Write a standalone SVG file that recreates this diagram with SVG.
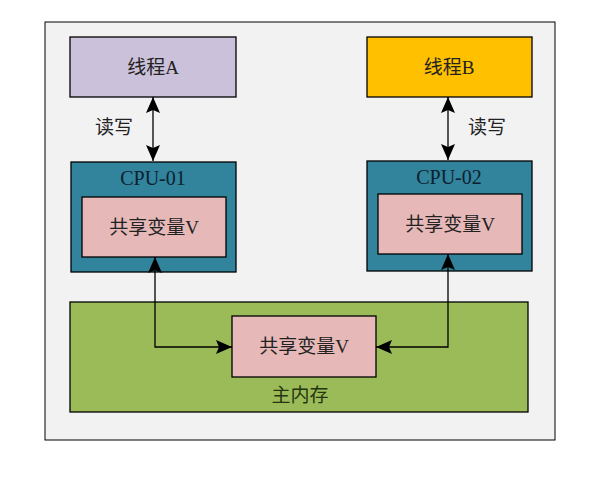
<svg xmlns="http://www.w3.org/2000/svg" width="602" height="485" viewBox="0 0 602 485">
<style>
text{font-family:"Liberation Serif","Noto Sans CJK SC",serif;font-size:19px;text-anchor:middle;dominant-baseline:central;fill:#222}
.b{stroke:#000;stroke-width:1.3}
.c{fill:none;stroke:#000;stroke-width:1.3}
</style>
<defs>
<marker id="h" viewBox="0 0 16 14" refX="16" refY="7" markerWidth="16" markerHeight="14" markerUnits="userSpaceOnUse" orient="auto-start-reverse">
<path d="M0,0 L16,7 L0,14 L3,7 Z" fill="#000"/>
</marker>
</defs>
<rect width="602" height="485" fill="#fff"/>
<rect x="45" y="22" width="510" height="418" fill="#F2F2F2" stroke="#000" stroke-width="1"/>
<g id="mem">
<rect class="b" x="70" y="302" width="458" height="110" fill="#9BBB59"/>
<text x="300" y="395" style="fill:#24350f">主内存</text>
</g>
<g id="threadA">
<rect class="b" x="70" y="37" width="166" height="60" fill="#CCC1DA"/>
<text x="153" y="67">线程A</text>
</g>
<g id="threadB">
<rect class="b" x="367" y="37" width="165" height="60" fill="#FFC000"/>
<text x="449" y="67">线程B</text>
</g>
<g id="cpu1">
<rect class="b" x="71" y="162" width="165" height="110" fill="#31849B"/>
<text x="153" y="178" style="fill:#0d2030;font-size:20px">CPU-01</text>
<rect class="b" x="82" y="197" width="144" height="60" fill="#E6B9B8"/>
<text x="154" y="227">共享变量V</text>
</g>
<g id="cpu2">
<rect class="b" x="367" y="161" width="165" height="110" fill="#31849B"/>
<text x="449" y="177" style="fill:#0d2030;font-size:20px">CPU-02</text>
<rect class="b" x="378" y="194" width="144" height="60" fill="#E6B9B8"/>
<text x="450" y="224">共享变量V</text>
</g>
<g id="shared">
<rect class="b" x="232" y="316" width="144" height="61" fill="#E6B9B8"/>
<text x="304" y="346">共享变量V</text>
</g>
<g id="connectors">
<path class="c" d="M153,97 L153,161" marker-start="url(#h)" marker-end="url(#h)"/>
<path class="c" d="M448,97 L448,160" marker-start="url(#h)" marker-end="url(#h)"/>
<path class="c" d="M155,257 L155,347 L232,347" marker-start="url(#h)" marker-end="url(#h)"/>
<path class="c" d="M448,254 L448,347 L376,347" marker-start="url(#h)" marker-end="url(#h)"/>
<text x="114" y="127">读写</text>
<text x="487" y="127">读写</text>
</g>
</svg>
